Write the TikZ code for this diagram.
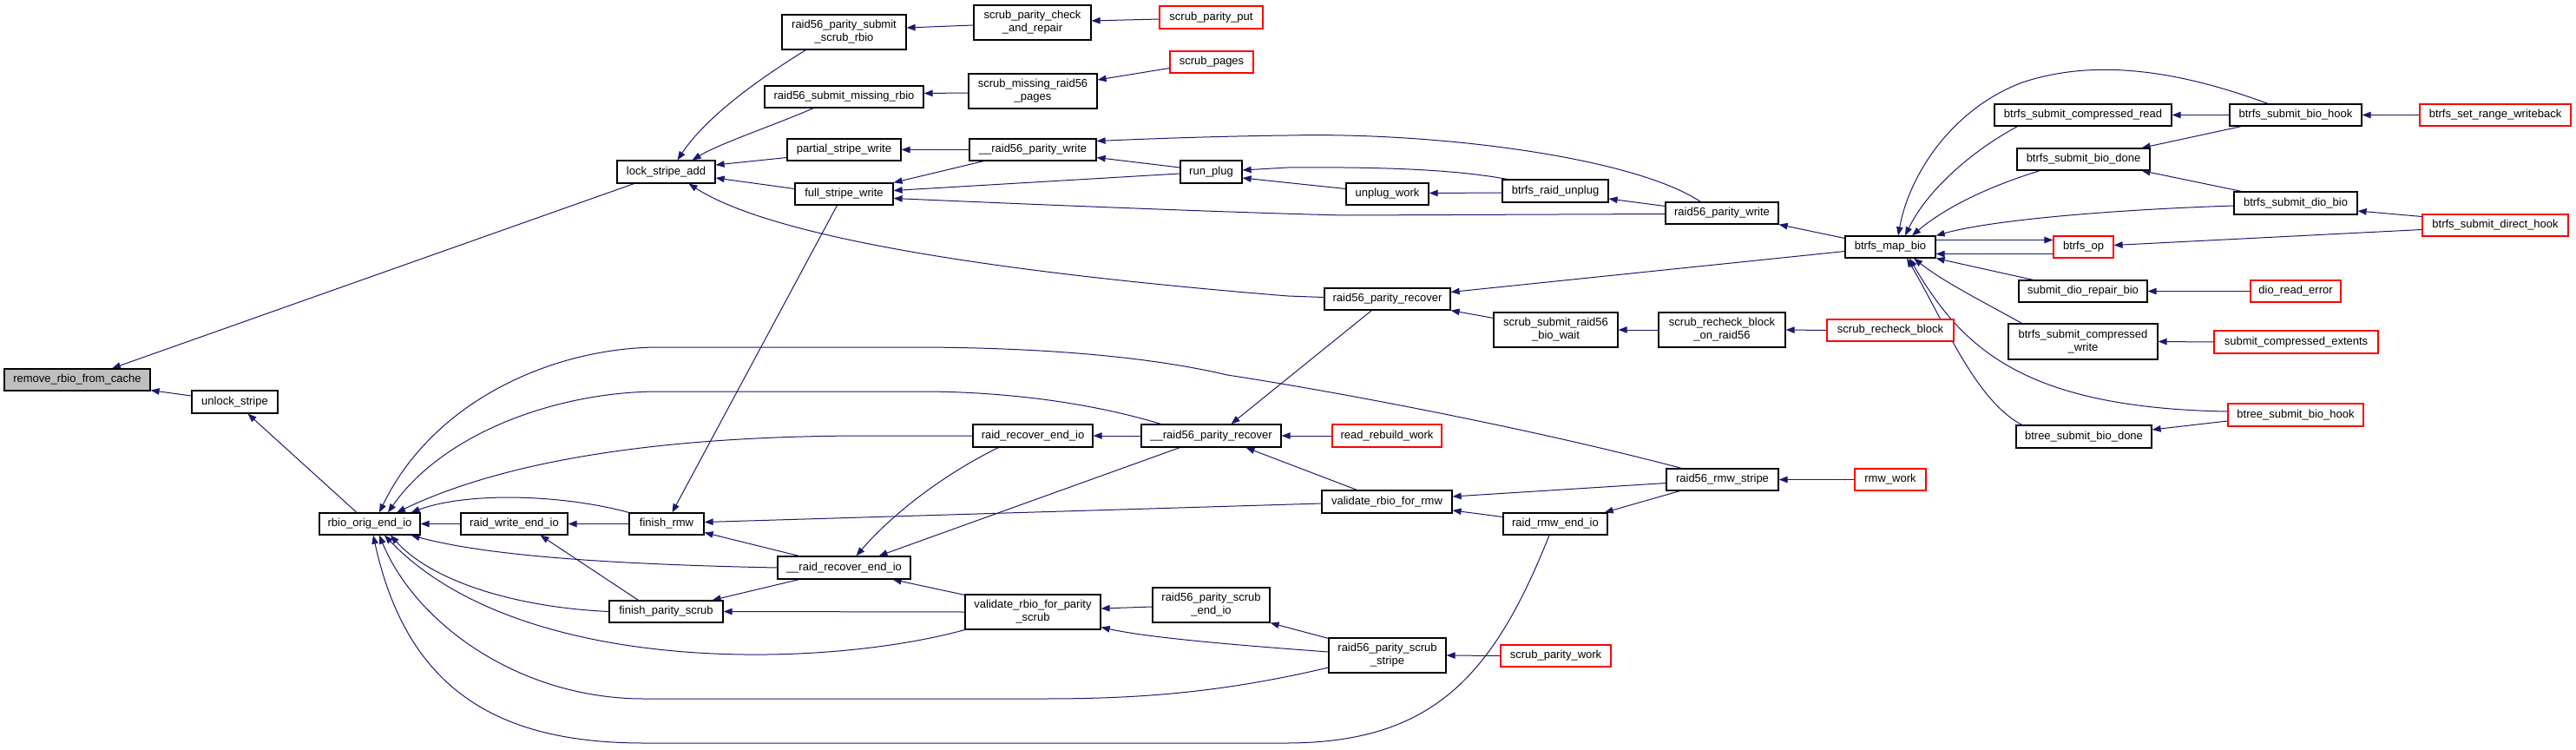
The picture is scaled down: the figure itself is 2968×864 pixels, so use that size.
\documentclass[tikz,border=0pt]{standalone}
\usepackage{fontspec}
\setmainfont{Liberation Sans}
\usetikzlibrary{arrows.meta,calc,backgrounds}
\definecolor{edgecol}{HTML}{191970}
\definecolor{rootfill}{HTML}{BFBFBF}
\tikzset{
  fn/.style={draw=black, line width=1.2pt, fill=white, inner sep=0pt, align=center,
    font=\fontsize{13}{15}\selectfont},
  trunc/.style={fn, draw=red},
  rootnode/.style={fn, fill=rootfill},
  cedge/.style={draw=edgecol, line width=1pt, -{Triangle[length=10pt,width=7.5pt]}}
}
\newcommand{\fnbox}[6][fn]{\node[#1, minimum width=#4pt, minimum height=#5pt] (#2) at (#3) {#6};}
\begin{document}
\begin{tikzpicture}[x=1pt,y=-1pt]
\useasboundingbox (0,0) rectangle (2968,864);
% nodes
\fnbox[rootnode]{rem}{89,437.5}{168}{25}{remove\_rbio\_from\_cache}
\fnbox{lock}{767.5,198}{113}{26}{lock\_stripe\_add}
\fnbox{unlock}{270.5,463}{99}{26}{unlock\_stripe}
\fnbox{rbio}{426,603.5}{116}{25}{rbio\_orig\_end\_io}
\fnbox{rwe}{592.5,603.5}{123}{25}{raid\_write\_end\_io}
\fnbox{frmw}{768,603.5}{86}{25}{finish\_rmw}
\fnbox{fps}{767.5,704.5}{131}{25}{finish\_parity\_scrub}
\fnbox{psr}{972.5,37}{143}{40}{raid56\_parity\_submit\\\_scrub\_rbio}
\fnbox{spc}{1189.5,26}{135}{40}{scrub\_parity\_check\\\_and\_repair}
\fnbox[trunc]{spp}{1395.5,20}{119}{26}{scrub\_parity\_put}
\fnbox{smr}{972.5,111.5}{183}{25}{raid56\_submit\_missing\_rbio}
\fnbox{smp}{1190,105}{148}{40}{scrub\_missing\_raid56\\\_pages}
\fnbox[trunc]{spg}{1396,71.5}{96}{25}{scrub\_pages}
\fnbox{psw}{972.5,172.5}{131}{25}{partial\_stripe\_write}
\fnbox{rpw}{1190,172.5}{146}{25}{\_\_raid56\_parity\_write}
\fnbox{runp}{1395.5,198}{71}{26}{run\_plug}
\fnbox{fsw}{972.5,223.5}{113}{25}{full\_stripe\_write}
\fnbox{rre}{1190,502}{138}{26}{raid\_recover\_end\_io}
\fnbox{rpr}{1395.5,502}{161}{26}{\_\_raid56\_parity\_recover}
\fnbox{rrei}{972.5,654}{153}{26}{\_\_raid\_recover\_end\_io}
\fnbox{vps}{1190,705}{156}{40}{validate\_rbio\_for\_parity\\\_scrub}
\fnbox{pse}{1395.5,697}{135}{40}{raid56\_parity\_scrub\\\_end\_io}
\fnbox{unw}{1598.5,223.5}{95}{25}{unplug\_work}
\fnbox{bru}{1792,220}{122}{26}{btrfs\_raid\_unplug}
\fnbox{r56w}{1984,245.5}{130}{25}{raid56\_parity\_write}
\fnbox{map}{2178,284.5}{104}{25}{btrfs\_map\_bio}
\fnbox{r56r}{1598.5,344.5}{145}{25}{raid56\_parity\_recover}
\fnbox{ssw}{1792.5,380}{143}{40}{scrub\_submit\_raid56\\\_bio\_wait}
\fnbox{srbr}{1984,380}{146}{40}{scrub\_recheck\_block\\\_on\_raid56}
\fnbox[trunc]{srb}{2178,380.5}{146}{25}{scrub\_recheck\_block}
\fnbox[trunc]{rrw}{1598,502}{126}{26}{read\_rebuild\_work}
\fnbox{rms}{1984.5,552.5}{129}{25}{raid56\_rmw\_stripe}
\fnbox[trunc]{rmw}{2178,552.5}{82}{25}{rmw\_work}
\fnbox{vrr}{1598,578}{150}{26}{validate\_rbio\_for\_rmw}
\fnbox{rrm}{1792,603.5}{120}{25}{raid\_rmw\_end\_io}
\fnbox{pss}{1598.5,755}{135}{40}{raid56\_parity\_scrub\\\_stripe}
\fnbox[trunc]{spw}{1792.5,755.5}{127}{25}{scrub\_parity\_work}
\fnbox{bscr}{2400,132.5}{204}{25}{btrfs\_submit\_compressed\_read}
\fnbox{bsbh}{2645,132.5}{152}{25}{btrfs\_submit\_bio\_hook}
\fnbox[trunc]{bsrw}{2875,132.5}{174}{25}{btrfs\_set\_range\_writeback}
\fnbox{bsbd}{2400.5,183.5}{153}{25}{btrfs\_submit\_bio\_done}
\fnbox{bsdb}{2645,234}{142}{26}{btrfs\_submit\_dio\_bio}
\fnbox[trunc]{bsdh}{2875,259.5}{168}{25}{btrfs\_submit\_direct\_hook}
\fnbox[trunc]{bop}{2400.5,284.5}{69}{25}{btrfs\_op}
\fnbox{sdrb}{2400,335.5}{148}{25}{submit\_dio\_repair\_bio}
\fnbox[trunc]{dre}{2645,335.5}{104}{25}{dio\_read\_error}
\fnbox{bscw}{2400,393.5}{172}{41}{btrfs\_submit\_compressed\\\_write}
\fnbox[trunc]{sce}{2645.5,394}{189}{26}{submit\_compressed\_extents}
\fnbox[trunc]{bth}{2645,478}{156}{26}{btree\_submit\_bio\_hook}
\fnbox{btd}{2401,503}{156}{26}{btree\_submit\_bio\_done}
% edges
\begin{scope}[on background layer]
\draw[cedge] ($(lock.south west)+(20,0)$) -- ($(rem.north)+(40,0)$);
\draw[cedge] ($(unlock.west)+(0,-7)$) -- ($(rem.south east)+(0,-1)$);
\draw[cedge] ($(rbio.north)+(-15,0)$) -- ($(unlock.south)+(15,0)$);
\draw[cedge] (rwe.west) -- (rbio.east);
\draw[cedge] (frmw.west) -- (rwe.east);
\draw[cedge] ($(fps.north west)+(34,0)$) -- ($(rwe.south)+(30,0)$);
\draw[cedge] ($(rms.north west)+(18,0)$) .. controls (1750,490) and (1520,448) .. (1414,432) .. controls (1300,405) and (1150,400) .. (1050,400) -- (760,400) .. controls (640,400) and (500,460) .. ($(rbio.north)+(11,0)$);
\draw[cedge] ($(rpr.north west)+(23,0)$) .. controls (1250,462) and (1150,451) .. (1060,451) -- (760,451) .. controls (640,451) and (510,500) .. ($(rbio.north)+(21,0)$);
\draw[cedge] (rre.west) -- (1000,502) .. controls (800,502) and (600,522) .. ($(rbio.north)+(31,0)$);
\draw[cedge] (frmw.north west) .. controls (650,570) and (540,566) .. ($(rbio.north east)+(-11,0)$);
\draw[cedge] (rrei.west) .. controls (700,650) and (560,640) .. ($(rbio.south east)+(-11,0)$);
\draw[cedge] (fps.west) .. controls (600,700) and (500,672) .. ($(rbio.south)+(24,0)$);
\draw[cedge] (vps.south west) .. controls (950,770) and (600,780) .. ($(rbio.south)+(17,0)$);
\draw[cedge] ($(pss.west)+(0,14)$) .. controls (1400,800) and (1300,805) .. (1200,805) -- (742,805) .. controls (600,805) and (480,720) .. ($(rbio.south)+(11,0)$);
\draw[cedge] ($(rrm.south)+(-7,0)$) .. controls (1720,780) and (1650,855) .. (1484,856) -- (742,856) .. controls (580,856) and (470,800) .. ($(rbio.south)+(4,0)$);
\draw[cedge] ($(psr.south west)+(28,0)$) .. controls (860,100) and (810,140) .. ($(lock.north)+(13,0)$);
\draw[cedge] ($(smr.south west)+(57,0)$) .. controls (890,145) and (830,165) .. ($(lock.north east)+(-27,0)$);
\draw[cedge] ($(psw.west)+(0,9)$) -- ($(lock.east)+(0,-8)$);
\draw[cedge] ($(fsw.west)+(0,-6)$) -- ($(lock.east)+(0,7)$);
\draw[cedge] ($(r56r.west)+(0,-2)$) -- (1484,341) .. controls (1200,318) and (900,280) .. ($(lock.south)+(26,0)$);
\draw[cedge] ($(spc.west)+(0,3)$) -- ($(psr.east)+(0,-5)$);
\draw[cedge] ($(spp.west)+(0,2)$) -- ($(spc.east)+(0,-2)$);
\draw[cedge] ($(smp.west)+(0,2)$) -- ($(smr.east)+(0,-4)$);
\draw[cedge] ($(spg.west)+(0,7)$) -- ($(smp.east)+(0,-13)$);
\draw[cedge] (rpw.west) -- (psw.east);
\draw[cedge] ($(rpw.south west)+(17,0)$) -- (fsw.north east);
\draw[cedge] ($(runp.west)+(0,-5)$) -- ($(rpw.east)+(0,9)$);
\draw[cedge] ($(runp.west)+(0,2)$) -- ($(fsw.east)+(0,-4)$);
\draw[cedge] ($(r56w.west)+(0,1)$) -- (1550,248) .. controls (1450,246) and (1200,236) .. ($(fsw.east)+(0,5)$);
\draw[cedge] ($(r56w.north west)+(41,0)$) .. controls (1880,180) and (1650,152) .. (1484,156) .. controls (1400,157) and (1320,160) .. ($(rpw.east)+(0,-10)$);
\draw[cedge] ($(bru.north west)+(6,0)$) .. controls (1680,196) and (1600,192) .. (1484,193) -- ($(runp.east)+(0,-2)$);
\draw[cedge] ($(unw.west)+(0,-6)$) -- ($(runp.east)+(0,7)$);
\draw[cedge] ($(bru.west)+(0,2)$) -- ($(unw.east)+(0,-1)$);
\draw[cedge] ($(r56w.west)+(0,-8)$) -- ($(bru.east)+(0,9)$);
\draw[cedge] ($(map.west)+(0,-10)$) -- (r56w.south east);
\draw[cedge] ($(map.west)+(0,5)$) -- ($(r56r.east)+(0,-8)$);
\draw[cedge] ($(ssw.north west)+(0,7)$) -- (r56r.south east);
\draw[cedge] (srbr.west) -- (ssw.east);
\draw[cedge] (srb.west) -- (srbr.east);
\draw[cedge] (rpr.west) -- (rre.east);
\draw[cedge] (rrw.west) -- (rpr.east);
\draw[cedge] ($(rre.south west)+(30,0)$) .. controls (1090,545) and (1030,590) .. ($(rrei.north)+(14,0)$);
\draw[cedge] ($(rpr.south west)+(45,0)$) -- ($(rrei.north)+(40,0)$);
\draw[cedge] ($(rrei.north west)+(25,0)$) -- ($(frmw.east)+(0,10)$);
\draw[cedge] ($(rrei.south west)+(25,0)$) -- ($(fps.north east)+(-13,0)$);
\draw[cedge] ($(vps.north west)+(0,1)$) -- ($(rrei.south east)+(-21,0)$);
\draw[cedge] (vps.west) -- (fps.east);
\draw[cedge] ($(pse.west)+(0,2)$) -- ($(vps.east)+(0,-4)$);
\draw[cedge] ($(pss.west)+(0,-4)$) .. controls (1450,745) and (1330,736) .. ($(vps.south east)+(0,-3)$);
\draw[cedge] ($(pss.north west)+(0,1)$) -- (pse.south east);
\draw[cedge] ($(vrr.west)+(0,2)$) -- ($(frmw.east)+(0,-2)$);
\draw[cedge] ($(r56r.south west)+(55,0)$) -- ($(rpr.north)+(23,0)$);
\draw[cedge] ($(vrr.north west)+(41,0)$) -- ($(rpr.south)+(40,0)$);
\draw[cedge] ($(rms.west)+(0,4)$) -- ($(vrr.east)+(0,-6)$);
\draw[cedge] ($(rrm.west)+(0,-8)$) -- ($(vrr.east)+(0,10)$);
\draw[cedge] ($(rms.south west)+(16,0)$) -- ($(rrm.north east)+(-4,0)$);
\draw[cedge] (rmw.west) -- (rms.east);
\draw[cedge] (spw.west) -- (pss.east);
\draw[cedge] ($(fsw.south)+(-8,0)$) -- ($(frmw.north west)+(50,0)$);
\draw[cedge] (bsbh.west) -- (bscr.east);
\draw[cedge] (bsrw.west) -- (bsbh.east);
\draw[cedge] ($(bsbh.south west)+(14,0)$) -- ($(bsbd.north east)+(-10,0)$);
\draw[cedge] ($(bsdb.north west)+(9,0)$) -- ($(bsbd.south east)+(-10,0)$);
\draw[cedge] ($(bsdh.west)+(0,-10)$) -- ($(bsdb.east)+(0,9)$);
\draw[cedge] ($(bsdh.west)+(0,5)$) -- ($(bop.east)+(0,-2)$);
\draw[cedge] (dre.west) -- (sdrb.east);
\draw[cedge] (sce.west) -- (bscw.east);
\draw[cedge] ($(bth.west)+(0,7)$) -- ($(btd.east)+(0,-8)$);
\draw[cedge] ($(map.east)+(0,-8)$) -- ($(bop.west)+(0,-8)$);
\draw[cedge] ($(bop.west)+(0,8)$) -- ($(map.east)+(0,8)$);
\draw[cedge] ($(bsdb.west)+(0,3)$) .. controls (2450,241) and (2300,252) .. (map.north east);
\draw[cedge] ($(bsbd.south west)+(27,0)$) .. controls (2290,215) and (2240,240) .. ($(map.north)+(25,0)$);
\draw[cedge] ($(bscr.south west)+(27,0)$) .. controls (2270,175) and (2220,220) .. ($(map.north)+(17,0)$);
\draw[cedge] ($(bsbh.north)+(-32,0)$) .. controls (2520,85) and (2420,65) .. (2330,95) .. controls (2250,125) and (2200,200) .. ($(map.north)+(9,0)$);
\draw[cedge] ($(sdrb.north west)+(17,0)$) -- (map.south east);
\draw[cedge] ($(bscw.north west)+(16,0)$) .. controls (2280,345) and (2240,325) .. ($(map.south)+(27,0)$);
\draw[cedge] ($(btd.north west)+(7,0)$) .. controls (2275,460) and (2240,370) .. ($(map.south)+(19,0)$);
\draw[cedge] ($(bth.west)+(0,-4)$) .. controls (2330,470) and (2260,400) .. ($(map.south)+(22,0)$);
\end{scope}
\end{tikzpicture}
\end{document}
